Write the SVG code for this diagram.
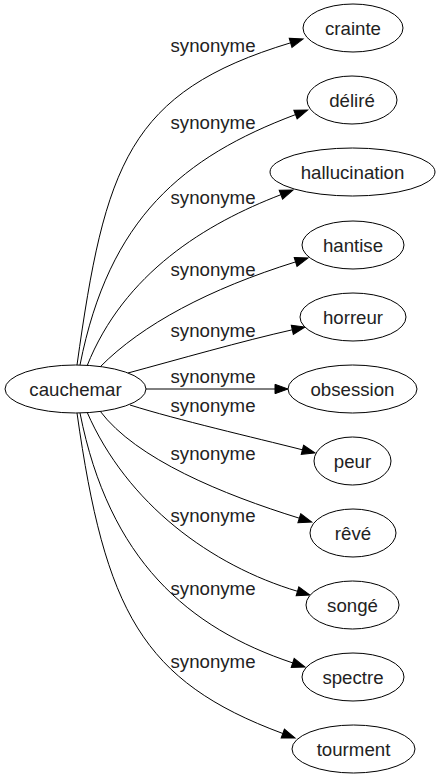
<svg xmlns="http://www.w3.org/2000/svg" width="440" height="779" viewBox="0 0 440 779">
<style>
  .node ellipse { fill: #ffffff; stroke: #000000; stroke-width: 1; }
  text { font-family: "Liberation Sans", Arial, sans-serif; font-size: 18.67px; fill: #222222; text-anchor: middle; }
  .edge { fill: none; stroke: #000000; stroke-width: 1; marker-end: url(#arrow); }
</style>
<defs>
  <marker id="arrow" markerUnits="userSpaceOnUse" markerWidth="14" markerHeight="10" refX="0" refY="0" viewBox="0 -5 14 10" orient="auto" overflow="visible">
    <path d="M0,-4.7 L13,0 L0,4.7 Z" fill="#000000" stroke="#000000" stroke-width="1"/>
  </marker>
</defs>
<rect x="0" y="0" width="440" height="779" fill="#ffffff"/>
<g id="connectors">
  <path class="edge" d="M77,365 C105,165 128,92 290.6,42.8"/>
  <path class="edge" d="M80,365 C109,218 183,157 295.5,114.6"/>
  <path class="edge" d="M87,366 C124,273 206,223.4 280.9,194.7"/>
  <path class="edge" d="M100,367 C142,324.4 209.7,288.7 295.6,261.9"/>
  <path class="edge" d="M128,373 C176,360 243.5,340.7 292.3,329.8"/>
  <path class="edge" d="M146,389 L275,389"/>
  <path class="edge" d="M130,405 C177.5,420 254,437.5 302.4,449.8"/>
  <path class="edge" d="M100,411 C136,459 222.9,494.5 299.3,518.2"/>
  <path class="edge" d="M87,412 C127,504 211.3,565.5 297.5,591.3"/>
  <path class="edge" d="M80,413 C109,560 188.3,628.1 292.7,662.9"/>
  <path class="edge" d="M77,413 C105,611 142,681.3 282.8,733.5"/>
  <text x="213" y="52">synonyme</text>
  <text x="213" y="129">synonyme</text>
  <text x="213" y="204">synonyme</text>
  <text x="213" y="276">synonyme</text>
  <text x="213" y="337">synonyme</text>
  <text x="213" y="383">synonyme</text>
  <text x="213" y="412">synonyme</text>
  <text x="213" y="460">synonyme</text>
  <text x="213" y="522">synonyme</text>
  <text x="213" y="595">synonyme</text>
  <text x="213" y="668">synonyme</text>
</g>
<g id="cauchemar" class="node"><ellipse cx="75.5" cy="389" rx="70.5" ry="24"/><text x="75.5" y="395.5">cauchemar</text></g>
<g id="crainte" class="node"><ellipse cx="353" cy="28" rx="50" ry="24"/><text x="353" y="34.5">crainte</text></g>
<g id="delire" class="node"><ellipse cx="352" cy="100" rx="45" ry="24"/><text x="352" y="106.5">déliré</text></g>
<g id="hallucination" class="node"><ellipse cx="352.5" cy="172" rx="82.5" ry="24"/><text x="352.5" y="178.5">hallucination</text></g>
<g id="hantise" class="node"><ellipse cx="353" cy="245" rx="51" ry="24"/><text x="353" y="251.5">hantise</text></g>
<g id="horreur" class="node"><ellipse cx="353" cy="317" rx="53" ry="24"/><text x="353" y="323.5">horreur</text></g>
<g id="obsession" class="node"><ellipse cx="352.5" cy="389" rx="64.5" ry="24"/><text x="352.5" y="395.5">obsession</text></g>
<g id="peur" class="node"><ellipse cx="352.5" cy="461" rx="38.5" ry="24"/><text x="352.5" y="467.5">peur</text></g>
<g id="reve" class="node"><ellipse cx="353" cy="533" rx="43" ry="24"/><text x="353" y="539.5">rêvé</text></g>
<g id="songe" class="node"><ellipse cx="352.5" cy="605" rx="46.5" ry="24"/><text x="352.5" y="611.5">songé</text></g>
<g id="spectre" class="node"><ellipse cx="353" cy="677" rx="51" ry="24"/><text x="353" y="683.5">spectre</text></g>
<g id="tourment" class="node"><ellipse cx="353.5" cy="749" rx="61.5" ry="24"/><text x="353.5" y="755.5">tourment</text></g>
</svg>
